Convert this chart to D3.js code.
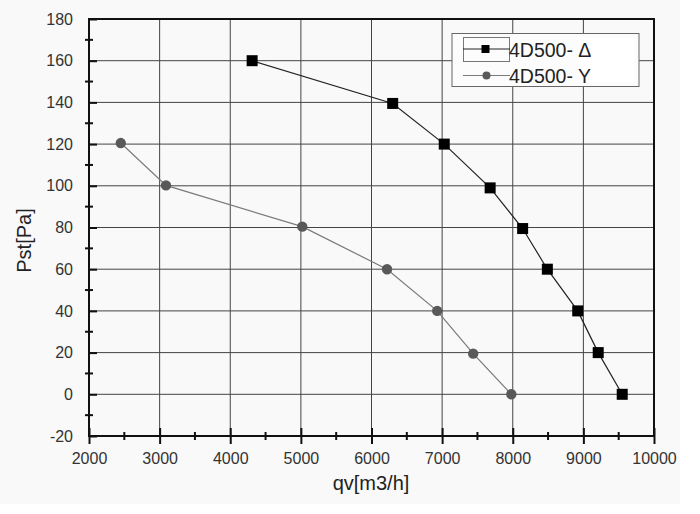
<!DOCTYPE html>
<html>
<head>
<meta charset="utf-8">
<script src="https://cdn.jsdelivr.net/npm/d3@7"></script>
<style>
  body { margin: 0; background: #fff; }
  svg { font-family: "Liberation Sans", Arial, sans-serif; }
</style>
</head>
<body>
<div id="chart"></div>
<script>
// fan curves
const deltaQv = [4310, 6300, 7030, 7680, 8140, 8490, 8920, 9210, 9550];
const deltaPst = [160, 139.5, 120, 99, 79.5, 60, 40, 20, 0];
const wyeQv = [2450, 3090, 5020, 6220, 6930, 7440, 7980];
const wyePst = [120.5, 100.2, 80.4, 60, 40, 19.5, 0];
const seriesNames = ["4D500- Δ", "4D500- Y"];
const xTicks = [2000, 3000, 4000, 5000, 6000, 7000, 8000, 9000, 10000];
const yTicks = [-20, 0, 20, 40, 60, 80, 100, 120, 140, 160, 180];

const width = 700, height = 514;
const margin = {top: 19, right: 46, bottom: 78, left: 89};
const w = width - margin.left - margin.right;
const h = height - margin.top - margin.bottom;

const root = d3.select("#chart").append("svg")
    .attr("width", width)
    .attr("height", height);

root.append("rect")
    .attr("width", 680).attr("height", 504)
    .attr("fill", "#f9f9f9");

const svg = root.append("g")
    .attr("transform", `translate(${margin.left}, ${margin.top})`);

let x = d3.scaleLinear().domain([2000, 10000]).range([0, w]);
let y = d3.scaleLinear().domain([-20, 180]).range([h, 0]);

// grid
svg.append("g").selectAll("line").data(xTicks.slice(1, -1)).enter()
    .append("line")
    .attr("x1", d => x(d)).attr("x2", d => x(d))
    .attr("y1", 0).attr("y2", h)
    .attr("stroke", "#444").attr("stroke-width", 1);
svg.append("g").selectAll("line").data(yTicks.slice(1, -1)).enter()
    .append("line")
    .attr("y1", d => y(d)).attr("y2", d => y(d))
    .attr("x1", 0).attr("x2", w)
    .attr("stroke", "#444").attr("stroke-width", 1);

// frame
svg.append("rect")
    .attr("width", w).attr("height", h)
    .attr("fill", "none").attr("stroke", "#111").attr("stroke-width", 2);

// minor ticks (cross the axis line)
let minorX = d3.range(2500, 10000, 1000);
let minorY = d3.range(-10, 180, 20);
svg.append("g").selectAll("line").data(minorX).enter()
    .append("line")
    .attr("x1", d => x(d)).attr("x2", d => x(d))
    .attr("y1", h - 4).attr("y2", h + 4)
    .attr("stroke", "#111").attr("stroke-width", 2);
svg.append("g").selectAll("line").data(minorY).enter()
    .append("line")
    .attr("y1", d => y(d)).attr("y2", d => y(d))
    .attr("x1", -4).attr("x2", 4)
    .attr("stroke", "#111").attr("stroke-width", 2);

// axes
let fmt = d => String(d);
let xAxis = svg.append("g")
    .attr("transform", `translate(0, ${h})`)
    .call(d3.axisBottom(x).tickValues(xTicks).tickFormat(fmt)
        .tickSizeInner(8).tickSizeOuter(0).tickPadding(9));
let yAxis = svg.append("g")
    .call(d3.axisLeft(y).tickValues(yTicks).tickFormat(fmt)
        .tickSizeInner(8).tickSizeOuter(0).tickPadding(8));
[xAxis, yAxis].forEach(a => {
    a.select(".domain").remove();
    a.selectAll("line").attr("stroke", "#111").attr("stroke-width", 2);
    a.selectAll("text").attr("font-size", 16).attr("fill", "#333")
        .attr("font-family", "Liberation Sans, Arial, sans-serif");
});
xAxis.selectAll(".tick line").attr("y1", -8);
yAxis.selectAll(".tick line").attr("x2", 8);

// axis titles
svg.append("text")
    .attr("x", 282).attr("y", 471)
    .attr("text-anchor", "middle")
    .attr("font-size", 20).attr("fill", "#222")
    .text("qv[m3/h]");
svg.append("text")
    .attr("transform", "translate(-58, 221.5) rotate(-90)")
    .attr("text-anchor", "middle")
    .attr("font-size", 20).attr("fill", "#222")
    .text("Pst[Pa]");

let line = d3.line().x(d => x(d[0])).y(d => y(d[1]));
let deltaData = d3.zip(deltaQv, deltaPst);
let wyeData = d3.zip(wyeQv, wyePst);

svg.append("path").datum(wyeData)
    .attr("d", line).attr("fill", "none")
    .attr("stroke", "#7a7a7a").attr("stroke-width", 1.2);
svg.append("g").selectAll("circle").data(wyeData).enter()
    .append("circle")
    .attr("cx", d => x(d[0])).attr("cy", d => y(d[1]))
    .attr("r", 5.2).attr("fill", "#595959");

svg.append("path").datum(deltaData)
    .attr("d", line).attr("fill", "none")
    .attr("stroke", "#222").attr("stroke-width", 1.2);
svg.append("g").selectAll("rect").data(deltaData).enter()
    .append("rect")
    .attr("x", d => x(d[0]) - 5.5).attr("y", d => y(d[1]) - 5.5)
    .attr("width", 11).attr("height", 11)
    .attr("fill", "#000");

// legend
let lg = root.append("g").attr("transform", "translate(452, 33.5)");
lg.append("rect")
    .attr("width", 187).attr("height", 53)
    .attr("fill", "#fcfcfc").attr("stroke", "#666").attr("stroke-width", 1);
lg.append("rect")
    .attr("x", 126).attr("y", 4).attr("width", 56).attr("height", 45)
    .attr("fill", "#fff");
lg.append("rect")
    .attr("x", 11.5).attr("y", 4).attr("width", 46).attr("height", 24)
    .attr("fill", "none").attr("stroke", "#777").attr("stroke-width", 1);

let rows = [
    {name: seriesNames[0], color: "#222", marker: "square"},
    {name: seriesNames[1], color: "#7a7a7a", marker: "circle"}
];
rows.forEach((r, i) => {
    let cy = 15.5 + i * 26.5;
    lg.append("line")
        .attr("x1", 11).attr("x2", 58).attr("y1", cy).attr("y2", cy)
        .attr("stroke", r.color).attr("stroke-width", 1.2);
    if (r.marker == "square") {
        lg.append("rect").attr("x", 29.5).attr("y", cy - 4)
            .attr("width", 8).attr("height", 8).attr("fill", "#000");
    } else {
        lg.append("circle").attr("cx", 34.5).attr("cy", cy)
            .attr("r", 4).attr("fill", "#595959");
    }
    lg.append("text")
        .attr("x", 57).attr("y", cy + 7.5)
        .attr("font-size", 19.5).attr("fill", "#222")
        .text(r.name);
});
</script>
</body>
</html>
